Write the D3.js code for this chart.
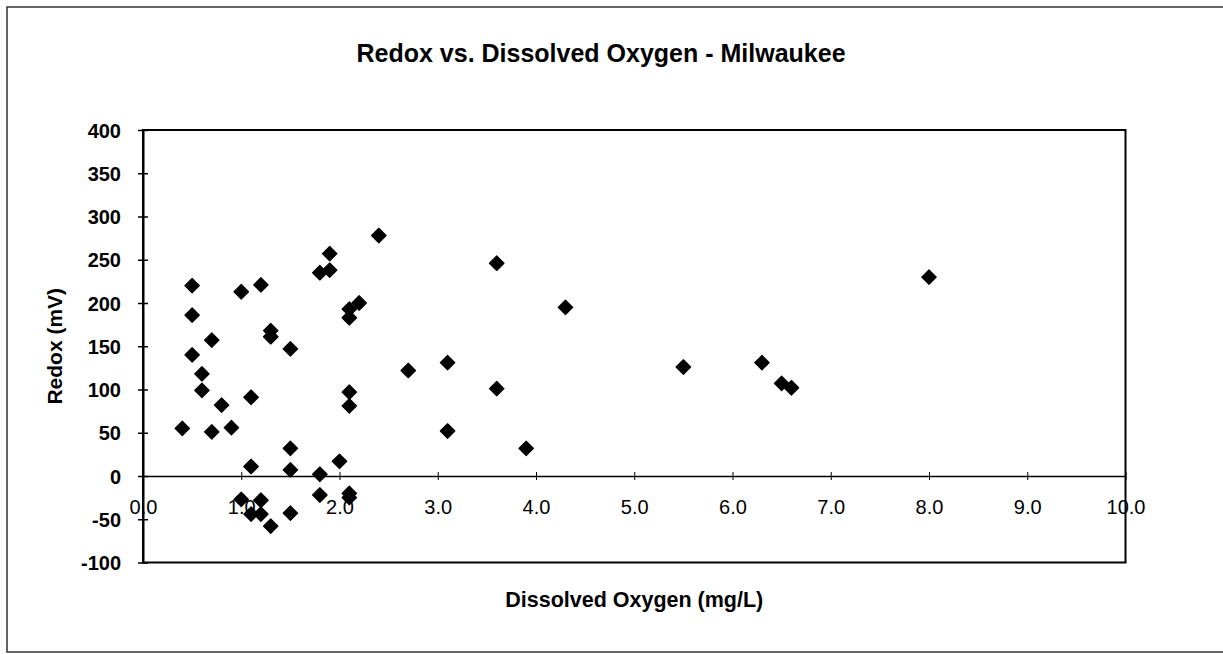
<!DOCTYPE html>
<html>
<head>
<meta charset="utf-8">
<script src="https://cdn.jsdelivr.net/npm/d3@7"></script>
<style>
  body { margin: 0; background: #fff; }
  text { font-family: "Liberation Sans", Arial, sans-serif; fill: #000; }
</style>
</head>
<body>
<div class="chart"></div>
<script>
// Data (DO in mg/L, redox in mV)
var doValues = [0.4, 0.5, 0.5, 0.5, 0.6, 0.6, 0.7, 0.7, 0.8, 0.9,
  1.0, 1.0, 1.1, 1.1, 1.1, 1.2, 1.2, 1.2, 1.3, 1.3,
  1.3, 1.5, 1.5, 1.5, 1.5, 1.8, 1.8, 1.8, 1.9, 1.9,
  2.0, 2.1, 2.1, 2.1, 2.1, 2.1, 2.1, 2.2, 2.4, 2.7,
  3.1, 3.1, 3.6, 3.6, 3.9, 4.3, 5.5, 6.3, 6.5, 6.6, 8.0];
var redoxValues = [55, 220, 186, 140, 118, 99, 157, 51, 82, 56,
  213, -27, 91, 11, -44, 221, -28, -44, 168, 161,
  -58, 147, 32, 7, -43, 235, 2, -22, 257, 238,
  17, 193, 183, 97, 81, -20, -25, 200, 278, 122,
  131, 52, 246, 101, 32, 195, 126, 131, 107, 102, 230];
var xTicks = [0, 1, 2, 3, 4, 5, 6, 7, 8, 9, 10];
var yTicks = [-100, -50, 0, 50, 100, 150, 200, 250, 300, 350, 400];

var svgWidth = 1223;
var svgHeight = 654;

var plot = { left: 143, right: 1125.5, top: 130, bottom: 562.5 };

var svg = d3.select(".chart")
  .append("svg")
  .attr("width", svgWidth)
  .attr("height", svgHeight);

// outer border of the chart area (runs off the right edge in the scan)
svg.append("rect")
  .attr("x", 7)
  .attr("y", 7)
  .attr("width", 1240)
  .attr("height", 645)
  .attr("fill", "none")
  .attr("stroke", "#333")
  .attr("stroke-width", 1.5);

// Step 1: scales
var xScale = d3.scaleLinear()
  .domain([0, 10])
  .range([plot.left, plot.right]);

var yScale = d3.scaleLinear()
  .domain([-100, 400])
  .range([plot.bottom, plot.top]);

// Step 2: plot frame
svg.append("rect")
  .attr("x", plot.left)
  .attr("y", plot.top)
  .attr("width", plot.right - plot.left)
  .attr("height", plot.bottom - plot.top)
  .attr("fill", "none")
  .attr("stroke", "#000")
  .attr("stroke-width", 2);

// Step 3: axes (plain hyphen for negatives, like the original)
var leftAxis = d3.axisLeft(yScale)
  .tickValues(yTicks)
  .tickSizeOuter(0)
  .tickPadding(16)
  .tickFormat(d => String(d));

var yAxisGroup = svg.append("g")
  .attr("transform", `translate(${plot.left}, 0)`)
  .call(leftAxis);

yAxisGroup.select(".domain").attr("stroke-width", 2);
yAxisGroup.selectAll(".tick line")
  .attr("x1", -5)
  .attr("x2", 5)
  .attr("stroke-width", 1.5);
yAxisGroup.selectAll("text")
  .style("font-family", "'Liberation Sans', Arial, sans-serif")
  .style("font-size", "20px")
  .style("font-weight", "bold")
  .attr("dy", "0.36em");

var bottomAxis = d3.axisBottom(xScale)
  .tickValues(xTicks)
  .tickSizeOuter(0)
  .tickFormat(d => d.toFixed(1));

var xAxisGroup = svg.append("g")
  .attr("transform", `translate(0, ${yScale(0)})`)
  .call(bottomAxis);

xAxisGroup.select(".domain").attr("stroke-width", 1.5);
xAxisGroup.selectAll(".tick line")
  .attr("y1", -4)
  .attr("y2", 4)
  .attr("stroke-width", 1);
xAxisGroup.selectAll("text")
  .style("font-family", "'Liberation Sans', Arial, sans-serif")
  .style("font-size", "20px")
  .attr("y", 38)
  .attr("dy", "0");

// Step 4: titles
svg.append("text")
  .attr("x", 601)
  .attr("y", 62)
  .attr("text-anchor", "middle")
  .style("font-size", "25px")
  .style("font-weight", "bold")
  .text("Redox vs. Dissolved Oxygen - Milwaukee");

svg.append("text")
  .attr("x", (plot.left + plot.right) / 2)
  .attr("y", 607)
  .attr("text-anchor", "middle")
  .style("font-size", "21.5px")
  .style("font-weight", "bold")
  .text("Dissolved Oxygen (mg/L)");

svg.append("text")
  .attr("transform", `translate(62, ${(plot.top + plot.bottom) / 2}) rotate(-90)`)
  .attr("text-anchor", "middle")
  .style("font-size", "21px")
  .style("font-weight", "bold")
  .text("Redox (mV)");

// Step 5: diamond markers
var points = doValues.map(function(d, i) {
  return { x: d, y: redoxValues[i] };
});

var diamond = d3.symbol().type(d3.symbolSquare).size(105);

svg.append("g")
  .selectAll("path")
  .data(points)
  .enter()
  .append("path")
  .attr("d", diamond)
  .attr("transform", d => `translate(${xScale(d.x)}, ${yScale(d.y)}) rotate(45)`)
  .attr("fill", "#000")
  .attr("stroke", "#000")
  .attr("stroke-width", 1.2)
  .attr("stroke-linejoin", "round");
</script>
</body>
</html>
